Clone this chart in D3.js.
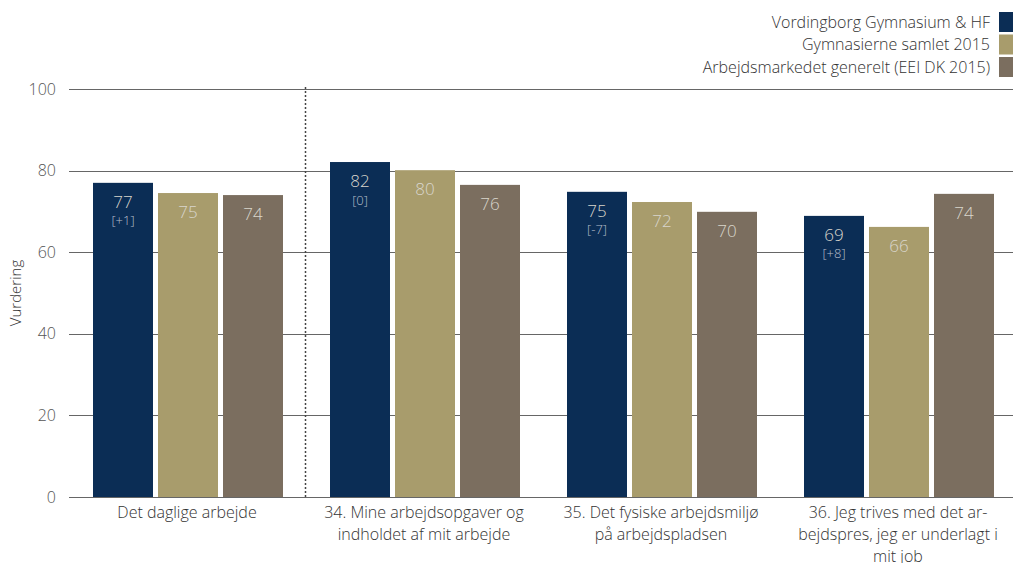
<!DOCTYPE html>
<html><head><meta charset="utf-8">
<script src="https://cdn.jsdelivr.net/npm/d3@7"></script>
<style>
html,body{margin:0;padding:0;background:#fff;}
text{font-family:"Open Sans","DejaVu Sans",sans-serif;font-weight:300;}
</style></head>
<body><svg id="c" width="1013" height="563"></svg>
<script>
const categories = [
  ["Det daglige arbejde"],
  ["34. Mine arbejdsopgaver og", "indholdet af mit arbejde"],
  ["35. Det fysiske arbejdsmiljø", "på arbejdspladsen"],
  ["36. Jeg trives med det ar-", "bejdspres, jeg er underlagt i", "mit job"]
];
const seriesNames = ["Vordingborg Gymnasium & HF", "Gymnasierne samlet 2015", "Arbejdsmarkedet generelt (EEI DK 2015)"];
const seriesColors = ["#0b2d55", "#a89c6c", "#7b6e5f"];
const vordingborg = [77.0, 82.1, 74.8, 68.9];
const gymnasierne = [74.5, 80.1, 72.3, 66.2];
const arbejdsmarked = [74.0, 76.5, 69.9, 74.3];
const valueLabels = [["77","82","75","69"],["75","80","72","66"],["74","76","70","74"]];
const diffLabels = ["[+1]", "[0]", "[-7]", "[+8]"];
const yTicks = [0, 20, 40, 60, 80, 100];
const yTitle = "Vurdering";

const series = [vordingborg, gymnasierne, arbejdsmarked];
const svg = d3.select("#c");
const x = d3.scaleBand().domain(d3.range(categories.length)).range([69.5, 1017.5]);
const y = d3.scaleLinear().domain([0, 100]).range([497, 89]);
const barW = 60, barStep = 65;
const textCol = "#555";

// gridlines
svg.append("g").selectAll("line").data(yTicks).join("line")
  .attr("x1", 69).attr("x2", 1013)
  .attr("y1", d => Math.round(y(d)) + 0.5).attr("y2", d => Math.round(y(d)) + 0.5)
  .attr("stroke", "#666").attr("stroke-width", 1);
// y tick labels
svg.append("g").selectAll("text").data(yTicks).join("text")
  .attr("x", 56).attr("y", d => y(d)).attr("dy", "0.35em")
  .attr("text-anchor", "end").attr("font-size", 16).attr("fill", textCol)
  .text(d => d);
// y title
svg.append("text").attr("transform", `translate(21,${y(50)}) rotate(-90)`)
  .attr("text-anchor", "middle").attr("font-size", 15).attr("fill", "#333").text(yTitle);

// dotted separator
const sepX = Math.round(x(1)) - 1.5;
svg.append("line").attr("x1", sepX).attr("x2", sepX).attr("y1", 87).attr("y2", 497)
  .attr("stroke", "#444").attr("stroke-width", 1.5).attr("stroke-dasharray", "2,2");

// bars
series.forEach((vals, si) => {
  const g = svg.append("g");
  g.selectAll("rect").data(vals).join("rect")
    .attr("x", (d, i) => x(i) + x.bandwidth() / 2 + (si - 1) * barStep - barW / 2)
    .attr("width", barW)
    .attr("y", d => y(d)).attr("height", d => y(0) - y(d))
    .attr("fill", seriesColors[si]);
  g.selectAll("text.v").data(vals).join("text").attr("class", "v")
    .attr("x", (d, i) => x(i) + x.bandwidth() / 2 + (si - 1) * barStep)
    .attr("y", d => y(d) + 19).attr("dy", "0.35em")
    .attr("text-anchor", "middle").attr("font-size", 17).attr("fill", "#d9d6cc")
    .text((d, i) => valueLabels[si][i]);
  if (si === 0) {
    g.selectAll("text.d").data(vals).join("text").attr("class", "d")
      .attr("x", (d, i) => x(i) + x.bandwidth() / 2 + (si - 1) * barStep)
      .attr("y", d => y(d) + 38).attr("dy", "0.35em")
      .attr("text-anchor", "middle").attr("font-size", 13).attr("fill", "#b8bfca")
      .text((d, i) => diffLabels[i]);
  }
});

// x labels
const xl = svg.append("g").selectAll("text").data(categories).join("text")
  .attr("x", (d, i) => x(i) + x.bandwidth() / 2 - 1)
  .attr("y", 512).attr("text-anchor", "middle").attr("font-size", 16).attr("fill", "#333");
xl.each(function(lines) {
  const t = d3.select(this);
  lines.forEach((ln, k) => {
    t.append("tspan").attr("x", t.attr("x")).attr("y", 512 + k * 22).attr("dy", "0.35em").text(ln);
  });
});

// legend
const lg = svg.append("g").selectAll("g").data(seriesNames).join("g")
  .attr("transform", (d, i) => `translate(0,${22 + i * 22.5})`);
lg.append("rect").attr("x", 999).attr("y", -10).attr("width", 14).attr("height", 20)
  .attr("fill", (d, i) => seriesColors[i]);
lg.append("text").attr("x", 990).attr("y", 0).attr("dy", "0.35em")
  .attr("text-anchor", "end").attr("font-size", 16).attr("fill", "#333").text(d => d);
</script></body></html>
